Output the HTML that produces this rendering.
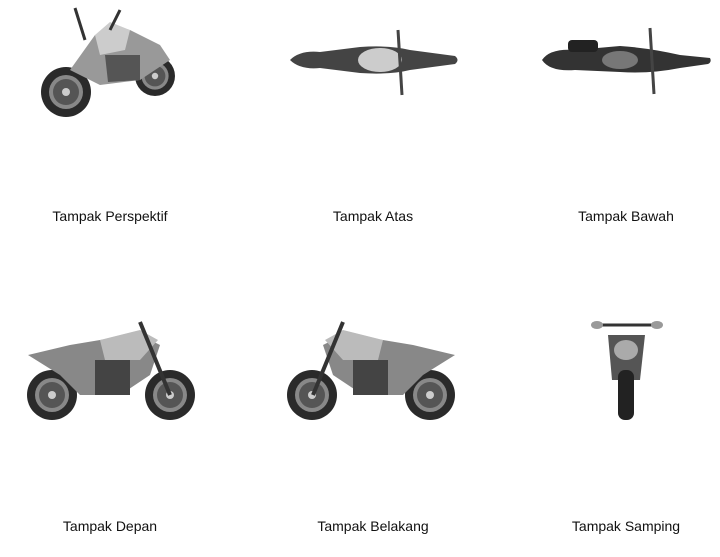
<!DOCTYPE html>
<html><head><meta charset="utf-8"><style>
body{margin:0;width:720px;height:557px;background:#fff;overflow:hidden;position:relative;font-family:"Liberation Sans",sans-serif}
.l{position:absolute;font-size:14px;color:#111;transform:translateX(-50%);white-space:nowrap}
svg{position:absolute;left:0;top:0}
</style></head><body>
<svg width="720" height="557">
<defs>
<g id="wheel"><circle r="25" fill="#2a2a2a"/><circle r="17" fill="#888"/><circle r="13" fill="#555"/><circle r="4" fill="#ccc"/></g>
</defs>
<!-- perspective -->
<use href="#wheel" transform="translate(66,92) scale(1)"/>
<use href="#wheel" transform="translate(155,76) scale(0.8)"/>
<path d="M70,70 L95,35 L130,30 L160,45 L170,60 L140,80 L100,85 Z" fill="#999"/>
<path d="M95,35 L110,22 L130,30 L125,50 L100,55 Z" fill="#ccc"/>
<path d="M105,55 L140,55 L140,80 L108,82 Z" fill="#555"/>
<line x1="75" y1="8" x2="85" y2="40" stroke="#333" stroke-width="3"/>
<line x1="120" y1="10" x2="110" y2="30" stroke="#333" stroke-width="3"/>
<!-- top -->
<path d="M290,60 Q300,50 320,52 L360,47 Q390,45 410,50 L455,56 Q460,60 455,64 L410,70 Q390,75 360,73 L320,68 Q300,70 290,60 Z" fill="#444"/>
<ellipse cx="380" cy="60" rx="22" ry="12" fill="#ccc"/>
<line x1="398" y1="30" x2="402" y2="95" stroke="#444" stroke-width="3"/>
<!-- bottom -->
<path d="M542,60 Q550,48 575,50 L620,46 Q650,48 680,55 L710,58 Q712,62 708,64 L680,68 Q650,74 620,72 L575,70 Q550,72 542,60 Z" fill="#333"/>
<rect x="568" y="40" width="30" height="12" rx="4" fill="#222"/>
<line x1="650" y1="28" x2="654" y2="94" stroke="#444" stroke-width="3"/>
<ellipse cx="620" cy="60" rx="18" ry="9" fill="#777"/>
<!-- side depan -->
<use href="#wheel" transform="translate(52,395)"/>
<use href="#wheel" transform="translate(170,395)"/>
<path d="M28,355 L70,345 L100,340 L140,335 L160,345 L150,375 L120,395 L80,395 L60,375 Z" fill="#888"/>
<path d="M100,340 L140,330 L158,340 L140,360 L105,360 Z" fill="#bbb"/>
<rect x="95" y="360" width="35" height="35" fill="#444"/>
<line x1="140" y1="322" x2="170" y2="395" stroke="#333" stroke-width="4"/>
<!-- side belakang -->
<use href="#wheel" transform="translate(312,395)"/>
<use href="#wheel" transform="translate(430,395)"/>
<path d="M455,355 L413,345 L383,340 L343,335 L323,345 L333,375 L363,395 L403,395 L423,375 Z" fill="#888"/>
<path d="M383,340 L343,330 L325,340 L343,360 L378,360 Z" fill="#bbb"/>
<rect x="353" y="360" width="35" height="35" fill="#444"/>
<line x1="343" y1="322" x2="313" y2="395" stroke="#333" stroke-width="4"/>
<!-- front -->
<line x1="598" y1="325" x2="655" y2="325" stroke="#333" stroke-width="3"/>
<ellipse cx="597" cy="325" rx="6" ry="4" fill="#999"/>
<ellipse cx="657" cy="325" rx="6" ry="4" fill="#999"/>
<path d="M608,335 L645,335 L640,380 L612,380 Z" fill="#555"/>
<rect x="618" y="370" width="16" height="50" rx="7" fill="#222"/>
<ellipse cx="626" cy="350" rx="12" ry="10" fill="#aaa"/>
</svg>
<div class="l" style="left:110px;top:208px">Tampak Perspektif</div>
<div class="l" style="left:373px;top:208px">Tampak Atas</div>
<div class="l" style="left:626px;top:208px">Tampak Bawah</div>
<div class="l" style="left:110px;top:518px">Tampak Depan</div>
<div class="l" style="left:373px;top:518px">Tampak Belakang</div>
<div class="l" style="left:626px;top:518px">Tampak Samping</div>
</body></html>
